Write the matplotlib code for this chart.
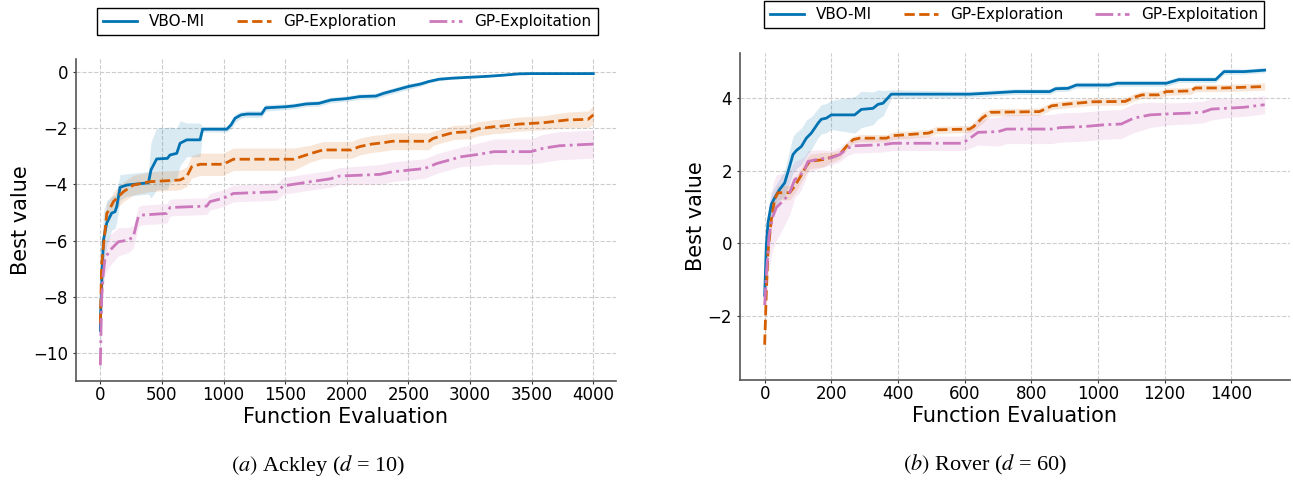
import numpy as np
import matplotlib
matplotlib.use("Agg")
import matplotlib.pyplot as plt

plt.rcParams['font.family'] = ['DejaVu Sans']
plt.rcParams['mathtext.fontset'] = 'stix'

labels = ["VBO-MI", "GP-Exploration", "GP-Exploitation"]
colors = ["#0173b2", "#d55e00", "#cc78bc"]
styles = ["-", "--", "-."]

# ---------------- (a) Ackley ----------------
ack_vbo_x = [0, 3, 24, 52, 92, 119, 133, 160, 214, 390, 411, 457, 544, 565, 620, 647, 701, 809, 830, 1026,
             1060, 1093, 1142, 1192, 1308, 1341, 1507, 1573, 1672, 1772, 1871, 2003, 2103, 2235, 2301, 2401,
             2500, 2599, 2666, 2748, 2864, 2997, 3129, 3262, 3394, 3493, 4000]
ack_vbo_y = [-9.2, -8.5, -6.0, -5.37, -5.02, -4.97, -4.79, -4.1, -4.02, -3.94, -3.48, -3.09, -3.07, -2.95,
             -2.89, -2.53, -2.41, -2.41, -2.03, -2.03, -1.88, -1.64, -1.52, -1.49, -1.49, -1.27, -1.23, -1.2,
             -1.13, -1.11, -0.99, -0.94, -0.87, -0.85, -0.75, -0.63, -0.51, -0.42, -0.33, -0.25, -0.21, -0.18,
             -0.15, -0.11, -0.06, -0.05, -0.05]
ack_vbo_s = [0.3, 0.8, 1.0, 0.8, 0.6, 0.6, 0.55, 0.45, 0.4, 0.4, 1.0, 1.1, 1.1, 1.0, 0.9, 0.8, 0.6, 0.6,
             0.1, 0.1, 0.15, 0.15, 0.12, 0.12, 0.12, 0.12, 0.1, 0.1, 0.1, 0.1, 0.1, 0.1, 0.1, 0.1, 0.1, 0.1,
             0.1, 0.08, 0.06, 0.05, 0.04, 0.03, 0.03, 0.02, 0.02, 0.02, 0.02]

ack_exr_x = [0, 11, 30, 52, 79, 106, 133, 187, 268, 403, 647, 701, 741, 809, 998, 1079, 1566, 1705, 1805,
             2036, 2103, 2202, 2301, 2368, 2666, 2699, 2765, 2864, 2997, 3063, 3195, 3262, 3394, 3593, 3791,
             3957, 4000]
ack_exr_y = [-8.95, -6.81, -5.98, -5.03, -4.85, -4.61, -4.49, -4.26, -4.02, -3.9, -3.84, -3.72, -3.37,
             -3.28, -3.28, -3.10, -3.10, -2.9, -2.77, -2.77, -2.65, -2.56, -2.51, -2.46, -2.46, -2.36, -2.27,
             -2.15, -2.12, -2.02, -1.94, -1.92, -1.85, -1.80, -1.70, -1.68, -1.52]
ack_exr_s = [0.3, 0.4, 0.4, 0.35, 0.35, 0.35, 0.35, 0.35, 0.35, 0.35, 0.35, 0.35, 0.4, 0.4, 0.4, 0.4, 0.4,
             0.3, 0.3, 0.3, 0.3, 0.3, 0.3, 0.3, 0.3, 0.25, 0.25, 0.25, 0.25, 0.25, 0.25, 0.25, 0.25, 0.25,
             0.28, 0.3, 0.32]

ack_exp_x = [0, 3, 11, 24, 38, 79, 146, 227, 268, 308, 336, 539, 565, 863, 890, 998, 1079, 1431, 1485,
             1675, 1864, 1937, 2268, 2368, 2500, 2632, 2732, 2831, 2930, 3063, 3195, 3493, 3593, 3725, 4000]
ack_exp_y = [-10.44, -9.67, -8.0, -7.17, -6.63, -6.34, -6.04, -5.98, -5.86, -5.15, -5.09, -5.03, -4.82,
             -4.77, -4.61, -4.49, -4.32, -4.26, -4.05, -3.92, -3.80, -3.70, -3.64, -3.55, -3.49, -3.43, -3.25,
             -3.13, -3.01, -2.93, -2.83, -2.83, -2.71, -2.62, -2.56]
ack_exp_s = [0.1, 0.4, 0.5, 0.55, 0.55, 0.55, 0.5, 0.45, 0.4, 0.35, 0.35, 0.35, 0.3, 0.3, 0.3, 0.3, 0.3,
             0.3, 0.3, 0.3, 0.3, 0.3, 0.35, 0.35, 0.35, 0.35, 0.35, 0.35, 0.35, 0.4, 0.45, 0.45, 0.5, 0.5, 0.5]

# ---------------- (b) Rover ----------------
rov_vbo_x = [0, 5, 10, 20, 30, 45, 60, 75, 85, 95, 110, 125, 140, 160, 170, 185, 200, 270, 290, 325, 340,
             355, 380, 615, 677, 750, 855, 873, 910, 935, 1033, 1058, 1205, 1242, 1353, 1378, 1439, 1500]
rov_vbo_y = [-1.43, -0.06, 0.57, 1.07, 1.25, 1.48, 1.66, 2.12, 2.44, 2.55, 2.66, 2.89, 3.03, 3.3, 3.41, 3.44,
             3.53, 3.53, 3.68, 3.71, 3.82, 3.85, 4.1, 4.10, 4.13, 4.17, 4.17, 4.25, 4.26, 4.35, 4.35, 4.40,
             4.40, 4.50, 4.50, 4.72, 4.72, 4.76]
rov_vbo_s = [0.1, 0.3, 0.3, 0.3, 0.3, 0.3, 0.35, 0.45, 0.5, 0.5, 0.5, 0.5, 0.45, 0.4, 0.4, 0.4, 0.4, 0.5,
             0.5, 0.45, 0.4, 0.35, 0.12, 0.08, 0.08, 0.08, 0.08, 0.08, 0.08, 0.08, 0.08, 0.08, 0.08, 0.08,
             0.08, 0.08, 0.07, 0.07]

rov_exr_x = [0, 5, 10, 20, 30, 40, 75, 90, 105, 125, 135, 175, 195, 225, 245, 265, 285, 365, 385, 418, 492,
             517, 615, 627, 652, 677, 824, 849, 861, 910, 984, 1082, 1107, 1132, 1181, 1205, 1279, 1292, 1378,
             1439, 1500]
rov_exr_y = [-2.79, -1.34, -0.25, 0.66, 1.21, 1.39, 1.39, 1.57, 1.8, 2.12, 2.25, 2.3, 2.35, 2.44, 2.66,
             2.85, 2.89, 2.89, 2.96, 2.98, 3.03, 3.12, 3.14, 3.21, 3.44, 3.6, 3.62, 3.72, 3.78, 3.83, 3.89,
             3.9, 4.01, 4.08, 4.08, 4.17, 4.19, 4.27, 4.27, 4.29, 4.31]
rov_exr_s = [0.6, 0.3, 0.2, 0.2, 0.2, 0.2, 0.2, 0.2, 0.2, 0.2, 0.2, 0.2, 0.15, 0.12, 0.1, 0.1, 0.1, 0.1,
             0.1, 0.1, 0.1, 0.1, 0.1, 0.12, 0.15, 0.1, 0.1, 0.1, 0.1, 0.1, 0.1, 0.1, 0.1, 0.1, 0.1, 0.1,
             0.1, 0.1, 0.1, 0.1, 0.1]

rov_exp_x = [0, 5, 13, 25, 35, 50, 60, 75, 90, 105, 120, 130, 165, 200, 225, 250, 270, 355, 385, 590, 609,
             640, 701, 726, 861, 886, 960, 1021, 1070, 1107, 1156, 1218, 1279, 1316, 1341, 1402, 1439, 1500]
rov_exp_y = [-1.7, -0.88, 0.21, 0.75, 0.98, 1.12, 1.21, 1.39, 1.75, 1.85, 2.03, 2.25, 2.32, 2.35, 2.44,
             2.62, 2.68, 2.71, 2.75, 2.75, 2.84, 3.05, 3.07, 3.14, 3.14, 3.18, 3.21, 3.26, 3.28, 3.44, 3.53,
             3.56, 3.58, 3.61, 3.69, 3.72, 3.74, 3.81]
rov_exp_s = [0.2, 0.5, 0.9, 0.9, 0.9, 0.8, 0.7, 0.6, 0.5, 0.45, 0.35, 0.3, 0.25, 0.2, 0.2, 0.2, 0.2, 0.2,
             0.2, 0.2, 0.25, 0.35, 0.4, 0.4, 0.4, 0.4, 0.4, 0.4, 0.4, 0.4, 0.35, 0.3, 0.3, 0.3, 0.3, 0.25,
             0.25, 0.25]

panels = [
    dict(series=[(ack_vbo_x, ack_vbo_y, ack_vbo_s), (ack_exr_x, ack_exr_y, ack_exr_s),
                 (ack_exp_x, ack_exp_y, ack_exp_s)],
         xlim=(-200, 4184), ylim=(-11.0, 0.47), xticks=np.arange(0, 4001, 500), yticks=[-10, -8, -6, -4, -2, 0],
         pos=[75.7, 381, 616, 59], leg=(347.5, 8),
         caption=r"$\mathit{(a)}$ Ackley ($\mathit{d}$ = 10)", cx=318),
    dict(series=[(rov_vbo_x, rov_vbo_y, rov_vbo_s), (rov_exr_x, rov_exr_y, rov_exr_s),
                 (rov_exp_x, rov_exp_y, rov_exp_s)],
         xlim=(-74, 1576), ylim=(-3.76, 5.24), xticks=np.arange(0, 1401, 200), yticks=[-2, 0, 2, 4],
         pos=[740, 380, 1290, 52.7], leg=(1014, 1),
         caption=r"$\mathit{(b)}$ Rover ($\mathit{d}$ = 60)", cx=985),
]

W, H = 1293, 480
fig = plt.figure(figsize=(W / 100, H / 100), dpi=100)

for p in panels:
    x0, y0, x1, y1 = p['pos']
    ax = fig.add_axes([x0 / W, 1 - y0 / H, (x1 - x0) / W, (y0 - y1) / H])
    handles = []
    for (xs, ys, ss), lab, c, ls in zip(p['series'], labels, colors, styles):
        xs = np.array(xs, float); ys = np.array(ys, float); ss = np.array(ss, float)
        ax.fill_between(xs, ys - ss, ys + ss, color=c, alpha=0.15, linewidth=0)
        h, = ax.plot(xs, ys, color=c, linestyle=ls, linewidth=2, label=lab)
        handles.append(h)
    ax.set_xlim(*p['xlim'])
    ax.set_ylim(*p['ylim'])
    ax.set_xticks(p['xticks'])
    ax.set_yticks(p['yticks'])
    ax.grid(True, linestyle='--', color='#cccccc', linewidth=0.8)
    ax.set_axisbelow(True)
    for s in ['top', 'right']:
        ax.spines[s].set_visible(False)
    for s in ['left', 'bottom']:
        ax.spines[s].set_color('#555555')
        ax.spines[s].set_linewidth(1.2)
    ax.tick_params(labelsize=12, length=2.4, color='#333333')
    ax.tick_params(axis='x', pad=1.2)
    ax.tick_params(axis='y', pad=3.2)
    ax.set_xlabel("Function Evaluation", fontsize=15, labelpad=2)
    ax.set_ylabel("Best value", fontsize=15, labelpad=1.5)
    lx, ly = p['leg']
    fig.legend(handles=handles, loc='upper center', bbox_to_anchor=(lx / W, 1 - ly / H),
               ncol=3, fontsize=11, frameon=True, fancybox=False, edgecolor='black',
               framealpha=1, borderaxespad=0, handlelength=2.2, columnspacing=2.1)
    fig.text(p['cx'] / W, 1 - 465 / H, p['caption'], ha='center', va='center',
             fontsize=16, family='Liberation Serif')

fig.savefig("out.png", dpi=100)
